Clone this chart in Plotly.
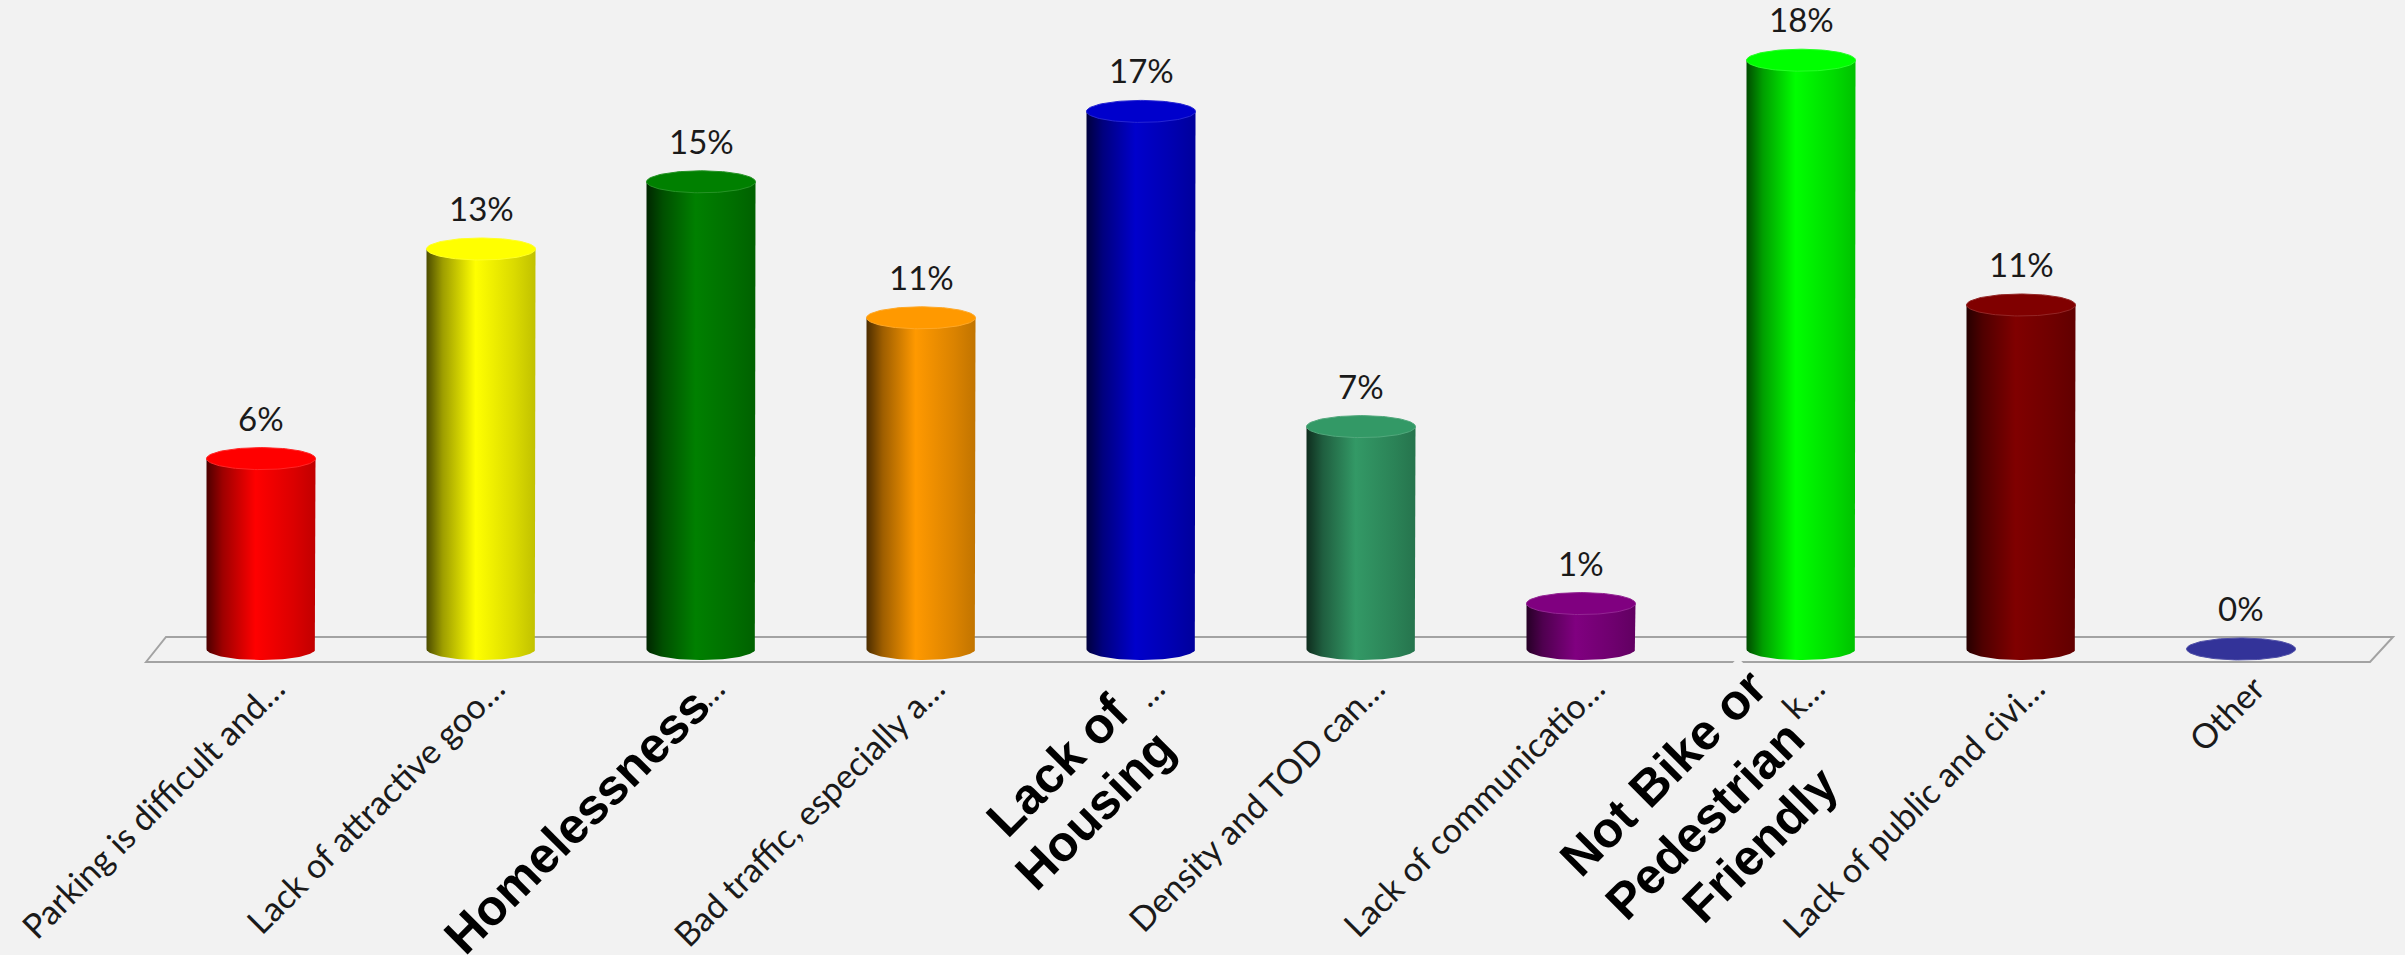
import plotly.graph_objects as go
import numpy as np

# ---------------- data ----------------
categories = [
    "Parking is difficult and…",
    "Lack of attractive goo…",
    "Homelessness",
    "Bad traffic, especially a…",
    "Lack of Housing",
    "Density and TOD can…",
    "Lack of communicatio…",
    "Not Bike or Pedestrian Friendly",
    "Lack of public and civi…",
    "Other",
]
tick_labels = [
    "Parking is difficult and…",
    "Lack of attractive goo…",
    "…",
    "Bad traffic, especially a…",
    "…",
    "Density and TOD can…",
    "Lack of communicatio…",
    "k…",
    "Lack of public and civi…",
    "Other",
]
values = [5.95, 12.5, 14.6, 10.35, 16.8, 6.95, 1.42, 18.4, 10.75, 0.0]
value_labels = ["6%", "13%", "15%", "11%", "17%", "7%", "1%", "18%", "11%", "0%"]
bar_colors = ["#FF0000", "#FFFF00", "#008000", "#FF9900", "#0000CC",
              "#339966", "#800080", "#00FF00", "#800000", "#333399"]

# bold overlay label lines: (text, centre pixel x, centre pixel y)
overlay_lines = [
    ("Homelessness", 577, 821),
    ("Lack of", 1057, 766),
    ("Housing", 1095, 810),
    ("Not Bike or", 1663, 773),
    ("Pedestrian", 1705, 820),
    ("Friendly", 1760, 845),
]

# ---------------- geometry / style ----------------
W, H = 2405, 955
ML, MR, MT, MB = 140, 10, 0, 294
PX_X = 220.0           # pixels per category unit
PX_Y = 32.0            # pixels per percent
BASE_PX = 649          # pixel row of value 0
X0_PX = 261            # pixel column of category 0
PLOT_W = W - ML - MR
PLOT_H = H - MT - MB
x_range = [-0.55, -0.55 + PLOT_W / PX_X]
y_range = [(BASE_PX - (MT + PLOT_H)) / PX_Y, (BASE_PX - MT) / PX_Y]

rx = 54.5 / PX_X
ry = 11.0 / PX_Y
BG = "#f2f2f2"


def px2paper(px, py):
    return (px - ML) / PLOT_W, (MT + PLOT_H - py) / PLOT_H


def shade(hexc, f):
    hexc = hexc.lstrip("#")
    r, g, b = (int(hexc[i:i + 2], 16) for i in (0, 2, 4))
    return "rgb(%d,%d,%d)" % (int(r * f), int(g * f), int(b * f))


def lighten(hexc, f):
    hexc = hexc.lstrip("#")
    r, g, b = (int(hexc[i:i + 2], 16) for i in (0, 2, 4))
    return "rgb(%d,%d,%d)" % (int(r + (255 - r) * f), int(g + (255 - g) * f), int(b + (255 - b) * f))


fig = go.Figure()

# floor (parallelogram) as a paper-referenced shape below the bars
corners = [px2paper(146, 662), px2paper(166, 637), px2paper(2393, 637), px2paper(2370, 662)]
path = "M %f,%f L %f,%f L %f,%f L %f,%f Z" % tuple(v for c in corners for v in c)
fig.add_shape(type="path", path=path, xref="paper", yref="paper",
              fillcolor=BG, line=dict(color="#a3a3a3", width=2), layer="below")

t_front = np.linspace(0, np.pi, 60)
t_full = np.linspace(0, 2 * np.pi, 120)

for i, (v, c) in enumerate(zip(values, bar_colors)):
    xc = i
    cs = [[0.0, shade(c, 0.30)], [0.15, shade(c, 0.62)], [0.45, c],
          [0.8, shade(c, 0.86)], [1.0, shade(c, 0.76)]]
    if v > 0:
        bx = [xc - rx, xc - rx, xc + rx, xc + rx] + list(xc + rx * np.cos(t_front))
        by = [0, v, v, 0] + list(-ry * np.sin(t_front))
        fig.add_trace(go.Scatter(
            x=bx, y=by, mode="lines", fill="toself",
            line=dict(width=0, color=c),
            fillgradient=dict(type="horizontal", colorscale=cs,
                              start=xc - rx, stop=xc + rx),
            hoverinfo="skip", showlegend=False,
        ))
    # top cap
    fig.add_trace(go.Scatter(
        x=list(xc + rx * np.cos(t_full)), y=list(v + ry * np.sin(t_full)),
        mode="lines", fill="toself", fillcolor=c,
        line=dict(width=1, color=lighten(c, 0.15)),
        hoverinfo="skip", showlegend=False,
    ))
    fig.add_annotation(
        x=xc, y=v, xref="x", yref="y", text=value_labels[i],
        showarrow=False, yanchor="bottom", yshift=19,
        font=dict(family="Lato", size=33, color="#1a1a1a"),
    )

# bold overlay labels (one annotation per line)
for txt, px, py in overlay_lines:
    fig.add_annotation(
        x=(px - X0_PX) / PX_X, y=(MT + PLOT_H - py) / PLOT_H,
        xref="x", yref="paper", text="<b>%s</b>" % txt,
        showarrow=False, textangle=-45, align="center",
        xanchor="center", yanchor="middle",
        bgcolor=BG, borderpad=0,
        font=dict(family="Liberation Sans", size=50, color="#000000"),
    )

fig.update_layout(
    width=W, height=H,
    margin=dict(l=ML, r=MR, t=MT, b=MB),
    paper_bgcolor=BG, plot_bgcolor=BG,
    showlegend=False,
    xaxis=dict(range=x_range, tickmode="array", tickvals=list(range(len(categories))),
               ticktext=tick_labels, tickangle=-45, showgrid=False, zeroline=False,
               showline=False, ticks="", ticklabelshift=14,
               tickfont=dict(family="Lato", size=34, color="#1a1a1a")),
    yaxis=dict(range=y_range, visible=False, showgrid=False, zeroline=False),
)

fig.write_html("out.html")
